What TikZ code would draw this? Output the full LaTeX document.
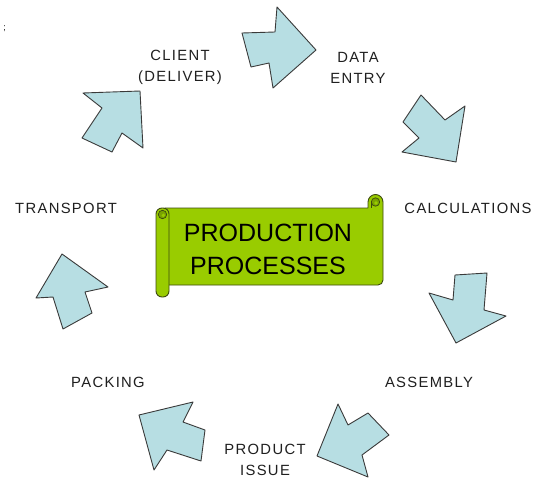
\documentclass[tikz,border=0pt]{standalone}
\usepackage{fontspec}
\setmainfont{Liberation Sans}
\newfontfamily\labfont[LetterSpace=9]{Liberation Sans}
\begin{document}
\begin{tikzpicture}[x=1pt,y=-1pt,
  arrowshape/.style={fill=arrowblue,draw=outl,line width=0.9pt,line join=round},
  lab/.style={font=\labfont\fontsize{14.8}{21}\selectfont,align=center,inner sep=0pt,text=black!88},
  scrollpart/.style={fill=scrollgreen,draw=scrolledge,line width=0.9pt,line join=round}]
\definecolor{arrowblue}{HTML}{B7DEE3}
\definecolor{outl}{HTML}{3A3A3A}
\definecolor{scrollgreen}{HTML}{99CC00}
\definecolor{scrolldark}{HTML}{7AA300}
\definecolor{scrolledge}{HTML}{3D4A10}
\useasboundingbox[fill=white] (0,0) rectangle (540,479);

% arrows
\draw[arrowshape] (242,33) -- (275,32) -- (277,7) -- (316,50) -- (273,88) -- (269,63) -- (251,67) -- cycle;
\draw[arrowshape] (403,122) -- (421,95) -- (445,120) -- (465,106) -- (456,162) -- (402,152) -- (419,138) -- cycle;
\draw[arrowshape] (455,275) -- (487,273) -- (484,310) -- (506,316) -- (456,343) -- (429,293) -- (453,300) -- cycle;
\draw[arrowshape] (338,404) -- (348,425) -- (368,413) -- (389,435) -- (362,455) -- (368,477) -- (317,456) -- cycle;
\draw[arrowshape] (139,415) -- (193,402) -- (183,422) -- (205,430) -- (201,461) -- (167,450) -- (154,470) -- cycle;
\draw[arrowshape] (62,254) -- (108,287) -- (85,292) -- (92,313) -- (63,329) -- (53,297) -- (36,298) -- cycle;
\draw[arrowshape] (83,93) -- (140,91) -- (143,148) -- (122,133) -- (112,152) -- (82,138) -- (102,108) -- cycle;

% scroll
\draw[scrollpart] (165,208) -- (368,208) -- (368,202) arc[start angle=180,end angle=360,radius=7.5]
  -- (383,280) arc[start angle=0,end angle=90,radius=5] -- (165,285) -- cycle;
\draw[scrolledge,line width=0.7pt,fill=scrolldark] (375.5,202) circle[radius=4.2];
\fill[scrollgreen] (376,203) circle[radius=1.8];
\draw[scrolledge,line width=0.7pt] (371.3,202) -- (371.3,208);
\draw[scrollpart,rounded corners=6pt] (156,208) rectangle (169,297);
\draw[scrolledge,line width=0.7pt,fill=scrolldark] (162.5,214.5) circle[radius=4.2];
\fill[scrollgreen] (163.3,215.3) circle[radius=1.8];
\node[font=\fontsize{25}{33}\selectfont,align=center,inner sep=0pt] (title) at (268,249) {PRODUCTION\\PROCESSES};

% labels
\node[lab] (client) at (180,67.5) {CLIENT\\(DELIVER)};
\node[lab] (data) at (358,67.5) {DATA\\ENTRY};
\node[lab] (calc) at (468,208) {CALCULATIONS};
\node[lab] (assembly) at (429,382) {ASSEMBLY};
\node[lab] (product) at (265,459.5) {PRODUCT\\ISSUE};
\node[lab] (packing) at (108,382) {PACKING};
\node[lab] (transport) at (66,208) {TRANSPORT};
\node[font=\fontsize{9}{9}\selectfont,inner sep=0pt,anchor=east] (mark) at (6,29) {;};
\end{tikzpicture}
\end{document}
